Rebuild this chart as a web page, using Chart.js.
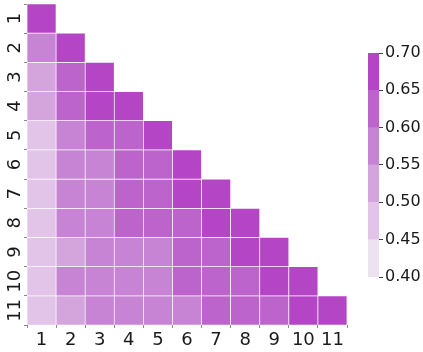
<!DOCTYPE html>
<html>
<head>
<meta charset="utf-8">
<script src="https://cdn.jsdelivr.net/npm/chart.js@4.4.1/dist/chart.umd.min.js"></script>
<style>
  html, body { margin: 0; padding: 0; background: #fff; }
  #wrap { position: relative; width: 423px; height: 352px; }
  #heat { position: absolute; left: 0; top: 0; }
  #bar { position: absolute; left: 340px; top: 0; }
</style>
</head>
<body>
<div id="wrap">
  <canvas id="heat" width="423" height="352"></canvas>
  <canvas id="bar" width="83" height="352"></canvas>
</div>
<script>
// labels for both axes
const labels = ["1", "2", "3", "4", "5", "6", "7", "8", "9", "10", "11"];

// lower triangle, one row per y label (row r has r values)
const rows = [
  [0.70],
  [0.57, 0.70],
  [0.53, 0.62, 0.70],
  [0.53, 0.62, 0.66, 0.70],
  [0.48, 0.58, 0.61, 0.62, 0.70],
  [0.48, 0.57, 0.57, 0.61, 0.62, 0.70],
  [0.47, 0.57, 0.57, 0.61, 0.62, 0.66, 0.70],
  [0.47, 0.58, 0.58, 0.63, 0.62, 0.62, 0.66, 0.70],
  [0.47, 0.54, 0.57, 0.56, 0.57, 0.61, 0.63, 0.66, 0.70],
  [0.47, 0.58, 0.57, 0.56, 0.56, 0.62, 0.61, 0.62, 0.66, 0.70],
  [0.47, 0.53, 0.57, 0.56, 0.56, 0.56, 0.61, 0.61, 0.62, 0.66, 0.70],
];

// colour bins of the colorbar
const binEdges = [0.40, 0.45, 0.50, 0.55, 0.60, 0.65, 0.70];
const binColors = ["#ede2ef", "#e1c4e7", "#d3a5dc", "#c783d4", "#bd63cc", "#b446c6"];

Chart.defaults.font.family = "'DejaVu Sans', sans-serif";
Chart.defaults.font.size = 16;
Chart.defaults.color = "#1a1a1a";

const colorFor = (v) => {
  let i = Math.floor((v - binEdges[0]) / 0.05 + 1e-9);
  if (i < 0) i = 0;
  if (i > binColors.length - 1) i = binColors.length - 1;
  return binColors[i];
};

// one floating-bar dataset per row
const heatSets = rows.map((vals, r) => ({
  data: labels.map((l, c) => (c < vals.length ? [r + 0.5, r + 1.5] : null)),
  backgroundColor: labels.map((l, c) => (c < vals.length ? colorFor(vals[c]) : "rgba(0,0,0,0)")),
  borderColor: "#fff",
  borderWidth: 0.7,
  borderSkipped: false,
  barPercentage: 1,
  categoryPercentage: 1,
  grouped: false,
}));

// y labels are rotated (read bottom to top), drawn at the y scale's tick positions
const rotatedYLabels = {
  id: "rotatedYLabels",
  afterDraw(chart) {
    const ctx = chart.ctx;
    const y = chart.scales.y;
    ctx.save();
    ctx.font = "18px 'DejaVu Sans', sans-serif";
    ctx.fillStyle = "#1a1a1a";
    ctx.textAlign = "center";
    ctx.textBaseline = "alphabetic";
    labels.forEach((l, i) => {
      ctx.save();
      ctx.translate(y.right - 7.5, y.getPixelForValue(i + 1));
      ctx.rotate(-Math.PI / 2);
      ctx.fillText(l, 0, 0);
      ctx.restore();
    });
    ctx.restore();
  },
};

new Chart(document.getElementById("heat"), {
  type: "bar",
  data: { labels: labels, datasets: heatSets },
  plugins: [rotatedYLabels],
  options: {
    responsive: false,
    animation: false,
    layout: { padding: { top: 4, right: 76, left: 0, bottom: 0 } },
    plugins: { legend: { display: false }, tooltip: { enabled: false } },
    scales: {
      x: {
        grid: { display: true, drawOnChartArea: false, drawTicks: true, tickLength: 3, color: "#888" },
        border: { display: false },
        ticks: { padding: 2, maxRotation: 0, minRotation: 0, font: { size: 18 } },
        afterFit: (s) => { s.height = 27; },
      },
      y: {
        type: "linear",
        reverse: true,
        min: 0.5,
        max: 11.5,
        grid: { display: true, drawOnChartArea: false, drawTicks: true, tickLength: 3, color: "#888" },
        border: { display: false },
        ticks: { stepSize: 1, display: false },
        afterFit: (s) => { s.width = 27; },
      },
    },
  },
});

// colorbar
const barSets = binColors.map((col, i) => ({
  data: [[binEdges[i], binEdges[i + 1]]],
  backgroundColor: col,
  borderWidth: 0,
  barPercentage: 1,
  categoryPercentage: 1,
  grouped: false,
}));

new Chart(document.getElementById("bar"), {
  type: "bar",
  data: { labels: [""], datasets: barSets },
  options: {
    responsive: false,
    animation: false,
    layout: { padding: { top: 53, bottom: 75, left: 28, right: 0 } },
    plugins: { legend: { display: false }, tooltip: { enabled: false } },
    scales: {
      x: { display: false },
      y: {
        position: "right",
        min: 0.40,
        max: 0.70,
        grid: { display: true, drawOnChartArea: false, drawTicks: true, tickLength: 4, color: "#444" },
        border: { display: false },
        ticks: {
          stepSize: 0.05,
          padding: 2,
          callback: (v) => v.toFixed(2),
        },
        afterFit: (s) => { s.width = 44; },
      },
    },
  },
});
</script>
</body>
</html>
